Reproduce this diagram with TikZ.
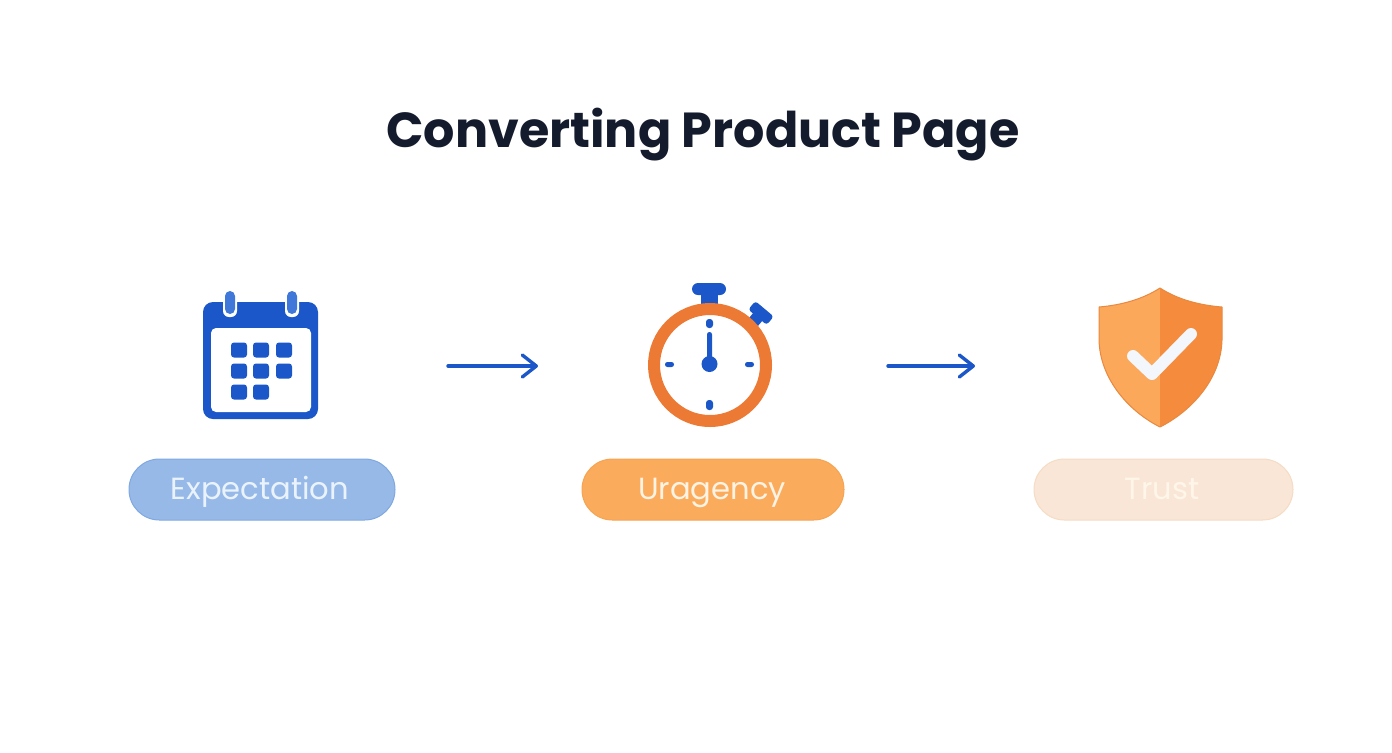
\documentclass[tikz,border=0pt]{standalone}
\usepackage{fontspec}
\setmainfont{Poppins}
\usetikzlibrary{arrows.meta}
\definecolor{inkdark}{HTML}{141B2D}
\definecolor{calblue}{HTML}{1B57C8}
\definecolor{ringblue}{HTML}{3F78D8}
\definecolor{watchorange}{HTML}{EC7A35}
\definecolor{shieldleft}{HTML}{FBA85A}
\definecolor{shieldright}{HTML}{F58B3C}
\definecolor{shieldedge}{HTML}{E8893F}
\definecolor{checkwhite}{HTML}{F3F6FA}
\definecolor{expfill}{HTML}{97B9E8}
\definecolor{expedge}{HTML}{7FA8E0}
\definecolor{expink}{HTML}{EAF3FC}
\definecolor{urgfill}{HTML}{FBAB5C}
\definecolor{urgedge}{HTML}{F5A452}
\definecolor{urgink}{HTML}{FFF3E4}
\definecolor{trustfill}{HTML}{F9E6D6}
\definecolor{trustedge}{HTML}{F5DCC4}
\definecolor{trustink}{HTML}{FFF6EA}
\tikzset{
  icon/.style={minimum width=#1,minimum height=65pt,inner sep=0pt,outer sep=0pt},
  pill/.style={rounded corners=15.2pt,line width=.5pt,minimum height=30.5pt,inner sep=0pt},
  pilltext/.style={font=\fontsize{15.3}{17}\selectfont,inner sep=0pt,anchor=base},
  flow/.style={draw=calblue,line width=1.7pt,line cap=round,
    -{Straight Barb[length=7pt,width=11pt,line width=1.7pt,round]}}
}
\begin{document}
\begin{tikzpicture}[x=.5pt,y=-.5pt]
    \useasboundingbox (0,0) rectangle (1392,752);
    \node[text=inkdark] (title) at (703,135){\fontsize{24.6}{30}\selectfont\bfseries Converting Product Page};
    % icon boxes
    \node[icon=57pt] (calicon) at (261,366){};
    \node[icon=62pt] (watchicon) at (710,366){};
    \node[icon=61.5pt] (shieldicon) at (1160.5,366){};
    % calendar
    \fill[calblue,rounded corners=5pt] (203,302) rectangle (318,419);
    \fill[white,rounded corners=2.5pt] (211,328) rectangle (311,412);
    \foreach \x in {230,292}{
      \fill[white,rounded corners=3pt] (\x-7,296) rectangle (\x+7,317);
      \fill[ringblue,rounded corners=2.5pt] (\x-5,291) rectangle (\x+5,314);
    }
    \foreach \x/\y in {239/350,261/350,284/350,239/371,261/371,284/371,239/392,261/392}{
      \fill[calblue,rounded corners=1.5pt] (\x-8,\y-7.5) rectangle (\x+8,\y+7.5);
    }
    % stopwatch
    \fill[calblue] (701,294) rectangle (718,304);
    \fill[calblue,rounded corners=3pt] (692,283) rectangle (726,295);
    \begin{scope}[shift={(761,313)},rotate=-40]
      \fill[calblue] (-6,0) rectangle (6,18);
      \fill[calblue,rounded corners=1.5pt] (-12,-5.5) rectangle (12,5.5);
    \end{scope}
    \draw[watchorange,line width=6pt] (710,365) circle (56);
    \fill[calblue,rounded corners=1.5pt] (706,319) rectangle (713,328);
    \fill[calblue,rounded corners=1.5pt] (706,400) rectangle (713,410);
    \fill[calblue,rounded corners=1.2pt] (665,362) rectangle (674,367);
    \fill[calblue,rounded corners=1.2pt] (745,362) rectangle (754,367);
    \fill[calblue,rounded corners=1.2pt] (707,332) rectangle (712,364);
    \fill[calblue] (709.5,364) circle (8);
    % shield
    \fill[shieldleft] (1160,288) .. controls (1143,299) and (1122,305) .. (1099,307)
      -- (1099,340) .. controls (1100,380) and (1130,412) .. (1160,427) -- cycle;
    \fill[shieldright] (1160,288) .. controls (1177,299) and (1198,305) .. (1222,307)
      -- (1222,340) .. controls (1221,380) and (1190,412) .. (1160,427) -- cycle;
    \draw[shieldedge,line width=.5pt,line join=round] (1160,288) .. controls (1143,299) and (1122,305) .. (1099,307)
      -- (1099,340) .. controls (1100,380) and (1130,412) .. (1160,427)
      .. controls (1190,412) and (1221,380) .. (1222,340) -- (1222,307)
      .. controls (1198,305) and (1177,299) .. (1160,288) -- cycle;
    \draw[checkwhite,line width=6pt,line cap=round,line join=round] (1133,356) -- (1152,374) -- (1191,334);
    % pills
    \node[pill,draw=expedge,fill=expfill,minimum width=133pt] (expectation) at (262,489.5){};
    \node[pill,draw=urgedge,fill=urgfill,minimum width=131pt] (urgency) at (713,489.5){};
    \node[pill,draw=trustedge,fill=trustfill,minimum width=129.5pt] (trust) at (1163.5,489.5){};
    \node[pilltext,text=expink] (expectationtext) at (260,499){Expectation};
    \node[pilltext,text=urgink] (urgencytext) at (712,499){Uragency};
    \node[pilltext,text=trustink] (trusttext) at (1162,499){Trust};
    % arrows
    \draw[flow,shorten <=65pt,shorten >=55pt] (calicon) -- (watchicon);
    \draw[flow,shorten <=58pt,shorten >=62pt] (watchicon) -- (shieldicon);
\end{tikzpicture}
\end{document}
